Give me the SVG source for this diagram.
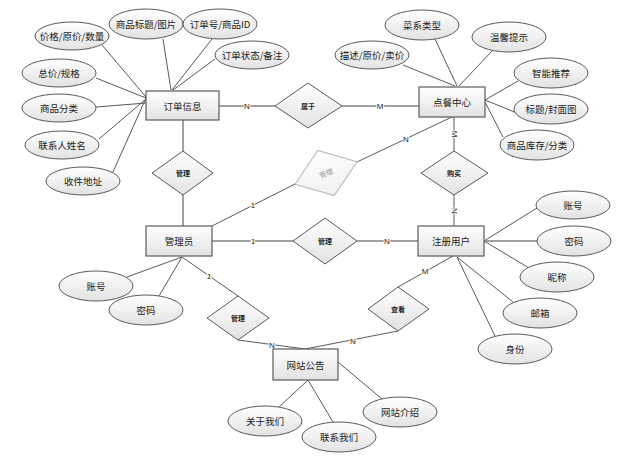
<svg xmlns="http://www.w3.org/2000/svg" width="638" height="456" viewBox="0 0 638 456">
<defs>
<linearGradient id="g" x1="0" y1="0" x2="0" y2="1">
<stop offset="0" stop-color="#ffffff"/>
<stop offset="1" stop-color="#e2e2e2"/>
</linearGradient>
<linearGradient id="gf" x1="0" y1="0" x2="0" y2="1">
<stop offset="0" stop-color="#ffffff"/>
<stop offset="1" stop-color="#f0f0f0"/>
</linearGradient>
</defs>
<style>
.e{fill:url(#g);stroke:#5a5a5a;stroke-width:1}
.r{fill:url(#g);stroke:#5a5a5a;stroke-width:1.2}
.d{fill:url(#g);stroke:#5a5a5a;stroke-width:1}
.df{fill:url(#gf);stroke:#b8b8b8;stroke-width:1}
.t{font-family:"Noto Sans CJK SC","Liberation Sans",sans-serif;font-size:9.5px;fill:#222;text-anchor:middle;dominant-baseline:central}
.dt{font-family:"Noto Sans CJK SC","Liberation Sans",sans-serif;font-size:7px;font-weight:bold;fill:#222;text-anchor:middle;dominant-baseline:central}
.ft{font-family:"Noto Sans CJK SC","Liberation Sans",sans-serif;font-size:7px;fill:#999;text-anchor:middle;dominant-baseline:central}
.l{stroke:#5a5a5a;stroke-width:1;fill:none}
.lt{stroke:#808080;stroke-width:1.5;fill:none}
.lf{stroke:#c4c4c4;stroke-width:1;fill:none}
.c{font-family:"Liberation Sans",sans-serif;font-size:8px;fill:#222;text-anchor:middle;dominant-baseline:central;paint-order:stroke;stroke:#fff;stroke-width:2}
</style>
<rect width="638" height="456" fill="#fff"/>
<g id="connectors">
<!-- 订单信息 attributes -->
<line class="l" x1="102" y1="45" x2="146" y2="97"/>
<line class="l" x1="163" y1="39" x2="171" y2="90"/>
<line class="l" x1="212" y1="39" x2="172" y2="90"/>
<line class="l" x1="215" y1="59" x2="173" y2="90"/>
<line class="l" x1="96" y1="78" x2="146" y2="98"/>
<line class="l" x1="96" y1="107" x2="146" y2="103"/>
<line class="l" x1="99" y1="139" x2="146" y2="99"/>
<line class="l" x1="113" y1="172" x2="146" y2="98"/>
<!-- 点餐中心 attributes -->
<line class="l" x1="435" y1="39" x2="457" y2="86"/>
<line class="l" x1="492" y1="51" x2="459" y2="86"/>
<line class="l" x1="403" y1="65" x2="455" y2="86"/>
<line class="l" x1="518" y1="81" x2="485" y2="100"/>
<line class="l" x1="517" y1="113" x2="485" y2="100" stroke-width="1.5"/>
<line class="l" x1="503" y1="137" x2="485" y2="102"/>
<!-- relations -->
<line class="lt" x1="219" y1="106" x2="275" y2="106"/>
<line class="lt" x1="342" y1="106" x2="419" y2="106"/>
<line class="lt" x1="183" y1="120" x2="183" y2="151"/>
<line class="lt" x1="183" y1="195" x2="183" y2="226"/>
<line class="l" x1="454" y1="116" x2="454" y2="151"/>
<line class="l" x1="454" y1="195" x2="454" y2="226"/>
<line class="l" x1="212" y1="226" x2="295" y2="184"/>
<line class="l" x1="357" y1="162" x2="454" y2="116"/>
<line class="lt" x1="212" y1="241" x2="293" y2="241"/>
<line class="lt" x1="357" y1="241" x2="418" y2="241"/>
<!-- 管理员 attributes -->
<line class="l" x1="182" y1="257" x2="127" y2="277"/>
<line class="l" x1="182" y1="257" x2="159" y2="296"/>
<line class="l" x1="182" y1="257" x2="238" y2="296"/>
<line class="l" x1="238" y1="340" x2="305" y2="349"/>
<line class="l" x1="453" y1="256" x2="398" y2="287"/>
<line class="l" x1="398" y1="331" x2="305" y2="349"/>
<!-- 注册用户 attributes -->
<line class="l" x1="484" y1="241" x2="537" y2="208"/>
<line class="lt" x1="484" y1="241" x2="537" y2="241"/>
<line class="l" x1="484" y1="241" x2="529" y2="268"/>
<line class="l" x1="457" y1="257" x2="513" y2="302"/>
<line class="l" x1="457" y1="257" x2="495" y2="336"/>
<!-- 网站公告 attributes -->
<line class="l" x1="308" y1="380" x2="279" y2="407"/>
<line class="l" x1="308" y1="380" x2="333" y2="422"/>
<line class="l" x1="338" y1="362" x2="382" y2="399"/>
<!-- cardinality labels -->
<text class="c" x="247" y="106">N</text>
<text class="c" x="380" y="106">M</text>
<text class="c" transform="translate(454,134) rotate(90)">M</text>
<text class="c" transform="translate(454,211) rotate(90)">N</text>
<text class="c" x="253" y="205">1</text>
<text class="c" x="406" y="139">N</text>
<text class="c" x="253" y="241">1</text>
<text class="c" x="387" y="241">N</text>
<text class="c" x="209" y="276" font-style="italic" font-size="7px">1</text>
<text class="c" x="272" y="345" font-size="7px">N</text>
<text class="c" x="425" y="271" font-size="7px">M</text>
<text class="c" x="353" y="341" font-size="7px">N</text>
</g>
<g id="order">
<rect class="r" x="146" y="91" width="73" height="29"/>
<text class="t" x="182.5" y="105.5">订单信息</text>
</g>
<g id="order-attrs">
<ellipse class="e" cx="72" cy="36" rx="37" ry="14"/><text class="t" x="72" y="36">价格/原价/数量</text>
<ellipse class="e" cx="146" cy="24" rx="37" ry="15"/><text class="t" x="146" y="24">商品标题/图片</text>
<ellipse class="e" cx="220" cy="24" rx="37" ry="15"/><text class="t" x="220" y="24">订单号/商品ID</text>
<ellipse class="e" cx="252" cy="55" rx="37" ry="14"/><text class="t" x="252" y="55">订单状态/备注</text>
<ellipse class="e" cx="59" cy="73" rx="37" ry="14"/><text class="t" x="59" y="73">总价/规格</text>
<ellipse class="e" cx="59" cy="108" rx="37" ry="14"/><text class="t" x="59" y="108">商品分类</text>
<ellipse class="e" cx="62" cy="145" rx="37" ry="14"/><text class="t" x="62" y="145">联系人姓名</text>
<ellipse class="e" cx="83" cy="181" rx="37" ry="14"/><text class="t" x="83" y="181">收件地址</text>
</g>
<g id="rel-shuyu">
<polygon class="d" points="275,106 308,83 342,106 308,128"/>
<text class="dt" x="308" y="106">属于</text>
</g>
<g id="center">
<rect class="r" x="419" y="87" width="66" height="30"/>
<text class="t" x="452" y="102">点餐中心</text>
</g>
<g id="center-attrs">
<ellipse class="e" cx="422" cy="25" rx="37" ry="15"/><text class="t" x="422" y="25">菜系类型</text>
<ellipse class="e" cx="509" cy="37" rx="37" ry="15"/><text class="t" x="509" y="37">温馨提示</text>
<ellipse class="e" cx="372" cy="55" rx="37" ry="14"/><text class="t" x="372" y="55">描述/原价/卖价</text>
<ellipse class="e" cx="551" cy="73" rx="37" ry="15"/><text class="t" x="551" y="73">智能推荐</text>
<ellipse class="e" cx="551" cy="109" rx="37" ry="15"/><text class="t" x="551" y="109">标题/封面图</text>
<ellipse class="e" cx="537" cy="145" rx="37" ry="15"/><text class="t" x="537" y="145">商品库存/分类</text>
</g>
<g id="rel-guanli-order">
<polygon class="d" points="152,173 183,151 213,173 183,195"/>
<text class="dt" x="183" y="173">管理</text>
</g>
<g id="rel-guanli-center">
<g transform="translate(326,173) rotate(-20)">
<polygon class="df" points="-33,0 0,-24 33,0 0,24"/>
<text class="ft" x="0" y="0">管理</text>
</g>
</g>
<g id="rel-goumai">
<polygon class="d" points="421,173 454,151 488,173 454,195"/>
<text class="dt" x="454" y="173">购买</text>
</g>
<g id="admin">
<rect class="r" x="146" y="226" width="66" height="30"/>
<text class="t" x="179" y="241">管理员</text>
</g>
<g id="admin-attrs">
<ellipse class="e" cx="96" cy="286" rx="37" ry="15"/><text class="t" x="96" y="286">账号</text>
<ellipse class="e" cx="146" cy="310" rx="37" ry="15"/><text class="t" x="146" y="310">密码</text>
</g>
<g id="rel-guanli-user">
<polygon class="d" points="293,241 325,218 357,241 325,264"/>
<text class="dt" x="325" y="241">管理</text>
</g>
<g id="user">
<rect class="r" x="418" y="226" width="66" height="30"/>
<text class="t" x="451" y="241">注册用户</text>
</g>
<g id="user-attrs">
<ellipse class="e" cx="573" cy="205" rx="37" ry="14"/><text class="t" x="573" y="205">账号</text>
<ellipse class="e" cx="574" cy="241" rx="37" ry="15"/><text class="t" x="574" y="241">密码</text>
<ellipse class="e" cx="557" cy="277" rx="37" ry="15"/><text class="t" x="557" y="277">昵称</text>
<ellipse class="e" cx="540" cy="313" rx="37" ry="15"/><text class="t" x="540" y="313">邮箱</text>
<ellipse class="e" cx="515" cy="349" rx="37" ry="15"/><text class="t" x="515" y="349">身份</text>
</g>
<g id="rel-guanli-notice">
<polygon class="d" points="207,318 238,296 269,318 238,340"/>
<text class="dt" x="238" y="318">管理</text>
</g>
<g id="rel-chakan">
<polygon class="d" points="368,309 398,287 429,309 398,331"/>
<text class="dt" x="398" y="309">查看</text>
</g>
<g id="notice">
<rect class="r" x="273" y="349" width="65" height="31"/>
<text class="t" x="305.5" y="364.5">网站公告</text>
</g>
<g id="notice-attrs">
<ellipse class="e" cx="265" cy="421" rx="37" ry="15"/><text class="t" x="265" y="421">关于我们</text>
<ellipse class="e" cx="339" cy="437" rx="37" ry="15"/><text class="t" x="339" y="437">联系我们</text>
<ellipse class="e" cx="400" cy="412" rx="37" ry="15"/><text class="t" x="400" y="412">网站介绍</text>
</g>
</svg>
